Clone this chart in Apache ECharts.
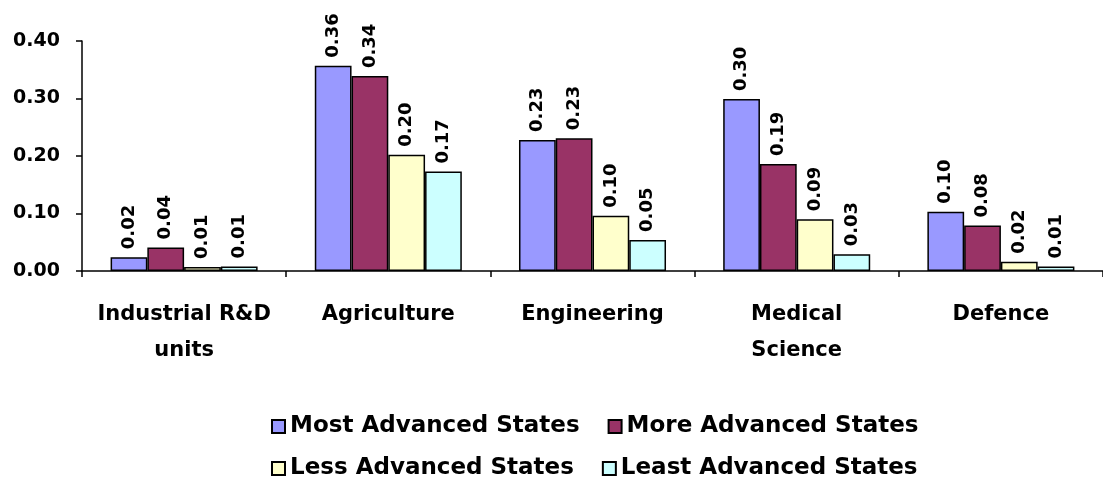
<!DOCTYPE html>
<html><head><meta charset="utf-8">
<script src="https://cdn.jsdelivr.net/npm/echarts@6/dist/echarts.min.js"></script>
<style>html,body{margin:0;padding:0;background:#fff}#c{width:1103px;height:482px}</style>
</head><body><div id="c"></div>
<script>
const categories = ['Industrial R&D\nunits', 'Agriculture', 'Engineering', 'Medical\nScience', 'Defence'];
const seriesNames = ['Most Advanced States', 'More Advanced States', 'Less Advanced States', 'Least Advanced States'];
const mostAdvanced = [0.024, 0.357, 0.228, 0.299, 0.103];
const moreAdvanced = [0.041, 0.339, 0.231, 0.186, 0.079];
const lessAdvanced = [0.007, 0.202, 0.096, 0.090, 0.016];
const leastAdvanced = [0.008, 0.173, 0.054, 0.029, 0.008];
const yTicks = [0, 0.1, 0.2, 0.3, 0.4];
const colors = ['#9999FF', '#993366', '#FFFFCC', '#CCFFFF'];
const values = [mostAdvanced, moreAdvanced, lessAdvanced, leastAdvanced];

const FONT = 'DejaVu Sans';
const chart = echarts.init(document.getElementById('c'));
chart.setOption({
  animation: false,
  backgroundColor: '#fff',
  grid: { left: 82, right: -4, top: 41, bottom: 211, containLabel: false },
  legend: [
    { data: seriesNames.slice(0, 2), left: 266, top: 410, itemGap: 28, itemWidth: 13, itemHeight: 13, icon: 'rect',
      textStyle: { fontFamily: FONT, fontWeight: 'bold', fontSize: 23, color: '#000' } },
    { data: seriesNames.slice(2, 4), left: 266, top: 452, itemGap: 28, itemWidth: 13, itemHeight: 13, icon: 'rect',
      textStyle: { fontFamily: FONT, fontWeight: 'bold', fontSize: 23, color: '#000' } }
  ],
  xAxis: {
    type: 'category', data: categories, boundaryGap: true,
    axisLine: { lineStyle: { color: '#000', width: 1.5 } },
    axisTick: { show: true, length: 6, lineStyle: { color: '#000', width: 1.5 } },
    axisLabel: { fontFamily: FONT, fontWeight: 'bold', fontSize: 21, color: '#000', margin: 26, lineHeight: 36, interval: 0 }
  },
  yAxis: {
    type: 'value', min: 0, max: 0.4, interval: 0.1,
    splitLine: { show: false },
    axisLine: { show: true, lineStyle: { color: '#000', width: 1.5 } },
    axisTick: { show: true, length: 6, lineStyle: { color: '#000', width: 1.5 } },
    axisLabel: { fontFamily: FONT, fontWeight: 'bold', fontSize: 19, color: '#000', margin: 22,
      formatter: v => v.toFixed(2) }
  },
  series: values.map((d, i) => ({
    name: seriesNames[i], type: 'bar', data: d,
    barGap: '0%', barCategoryGap: '28%',
    itemStyle: { color: colors[i], borderColor: '#000', borderWidth: 1.5 },
    label: { show: true, position: 'top', rotate: 90, align: 'left', verticalAlign: 'middle', distance: 8,
      fontFamily: FONT, fontWeight: 'bold', fontSize: 18, color: '#000',
      formatter: p => p.value.toFixed(2) }
  }))
});
</script></body></html>
